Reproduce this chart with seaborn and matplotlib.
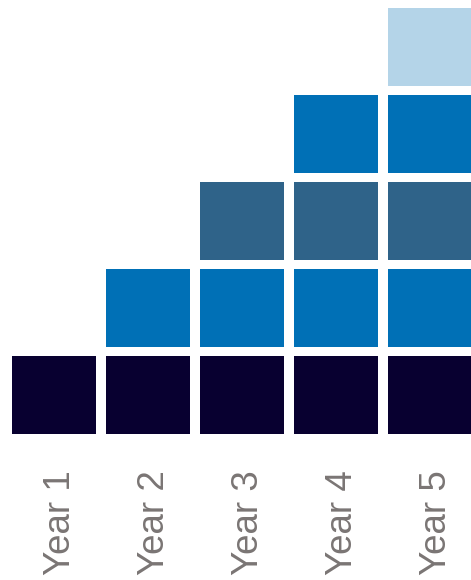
import matplotlib
matplotlib.use("Agg")
import matplotlib.pyplot as plt
import matplotlib.transforms as mtransforms
import seaborn as sns
import pandas as pd

years = ["Year 1", "Year 2", "Year 3", "Year 4", "Year 5"]
block_counts = [1, 2, 3, 4, 5]
layer_colors = ["#080030", "#0070b6", "#2f6389", "#0070b6", "#b4d4e8"]

sns.set_theme(style="white")
plt.rcParams['font.family'] = ['Liberation Sans', 'DejaVu Sans']

fig = plt.figure(figsize=(4.71, 5.80), dpi=100)
ax = fig.add_axes([0, 1 - 434 / 580, 1, 434 / 580])

seg_h = 78 / 87
for k, color in enumerate(layer_colors):
    vals = [seg_h if c > k else 0 for c in block_counts]
    df = pd.DataFrame({"year": years, "value": vals})
    sns.barplot(data=df, x="year", y="value", color=color, ax=ax,
                width=84 / 94, bottom=k, saturation=1, linewidth=0,
                order=years, errorbar=None)

ax.set_xlim(-54 / 94, (471 - 54) / 94)
ax.set_ylim(0, 434 / 87)
ax.set_xlabel("")
ax.set_ylabel("")
ax.set_yticks([])
for s in ax.spines.values():
    s.set_visible(False)
ax.tick_params(axis="x", length=0, pad=26, labelsize=26.5, labelcolor="#7a7574")
offset = mtransforms.ScaledTranslation(7 / 100, 0, fig.dpi_scale_trans)
for lab in ax.get_xticklabels():
    lab.set_rotation(90)
    lab.set_va("top")
    lab.set_ha("center")
    lab.set_transform(lab.get_transform() + offset)

fig.savefig("out.png", dpi=100)
